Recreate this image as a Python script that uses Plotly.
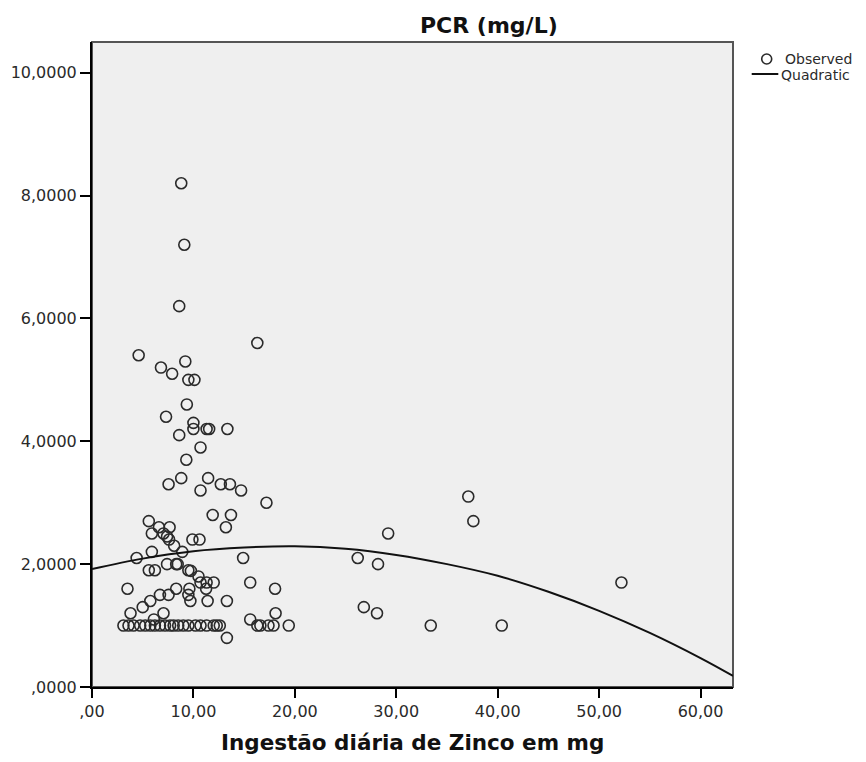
import plotly.graph_objects as go

# Observed points: daily zinc intake (mg) vs PCR (mg/L)
zinc_obs = [
    8.8, 9.1, 8.6, 16.3, 4.6, 6.8, 9.2, 7.9, 9.5, 10.1,
    9.35, 7.3, 10.0, 10.0, 11.3, 11.55, 13.35, 8.6, 10.7, 9.3,
    8.8, 7.55, 11.45, 10.7, 12.7, 13.6, 14.7, 17.2,
    37.1, 37.6, 29.2, 26.2, 28.2, 26.8, 28.1, 19.4, 33.4, 40.4, 52.2,
    11.9, 13.7, 5.6, 6.6, 7.65, 13.2, 5.9, 7.05, 7.4, 7.6, 8.1,
    9.9, 10.6, 5.9, 8.9, 4.4, 14.9, 7.4, 8.3, 8.45, 5.6, 6.2, 9.5, 9.75,
    10.5, 11.3, 12.0, 10.7, 15.6, 18.05, 3.5, 8.3, 9.6, 11.25,
    9.5, 6.7, 7.55, 5.75, 5.0, 9.7, 11.4, 13.3, 3.8, 7.05, 6.1, 15.6, 18.1,
    3.1, 3.6, 4.1, 4.75, 5.25, 5.75, 6.2, 6.7, 7.2, 7.7, 8.05, 8.5, 9.0,
    9.5, 10.2, 10.7, 11.3, 12.0, 12.3, 12.6, 16.3, 16.6, 17.4, 17.9,
    13.3,
]
pcr_obs = [
    8.2, 7.2, 6.2, 5.6, 5.4, 5.2, 5.3, 5.1, 5.0, 5.0,
    4.6, 4.4, 4.3, 4.2, 4.2, 4.2, 4.2, 4.1, 3.9, 3.7,
    3.4, 3.3, 3.4, 3.2, 3.3, 3.3, 3.2, 3.0,
    3.1, 2.7, 2.5, 2.1, 2.0, 1.3, 1.2, 1.0, 1.0, 1.0, 1.7,
    2.8, 2.8, 2.7, 2.6, 2.6, 2.6, 2.5, 2.5, 2.45, 2.4, 2.3,
    2.4, 2.4, 2.2, 2.2, 2.1, 2.1, 2.0, 2.0, 2.0, 1.9, 1.9, 1.9, 1.89,
    1.8, 1.7, 1.7, 1.7, 1.7, 1.6, 1.6, 1.6, 1.6, 1.6,
    1.5, 1.5, 1.5, 1.4, 1.3, 1.4, 1.4, 1.4, 1.2, 1.2, 1.1, 1.1, 1.2,
    1.0, 1.0, 1.0, 1.0, 1.0, 1.0, 1.0, 1.0, 1.0, 1.0, 1.0, 1.0, 1.0,
    1.0, 1.0, 1.0, 1.0, 1.0, 1.0, 1.0, 1.0, 1.0, 1.0, 1.0,
    0.8,
]

# Quadratic fit curve
zinc_fit = [0, 5, 10, 15, 20, 25, 30, 35, 40, 45, 50, 55, 60, 63.2]
pcr_fit = [1.92, 2.09, 2.21, 2.27, 2.29, 2.25, 2.15, 2.00, 1.81, 1.55, 1.24, 0.88, 0.47, 0.18]

x_tickvals = [0, 10, 20, 30, 40, 50, 60]
x_ticktext = [",00", "10,00", "20,00", "30,00", "40,00", "50,00", "60,00"]
y_tickvals = [0, 2, 4, 6, 8, 10]
y_ticktext = [",0000", "2,0000", "4,0000", "6,0000", "8,0000", "10,0000"]

title_text = "PCR (mg/L)"
x_title = "Ingestão diária de Zinco em mg"
legend_labels = ["Observed", "Quadratic"]

W, H = 866, 762
ML, MR, MT, MB = 92, 133, 42, 75
PW, PH = W - ML - MR, H - MT - MB


def px_x(p):
    return (p - ML) / PW


def px_y(p):
    return (H - MB - p) / PH


FONT = "DejaVu Sans"
TXT = "#2a2a2a"

fig = go.Figure()
fig.add_trace(go.Scatter(
    x=zinc_obs, y=pcr_obs, mode="markers", name=legend_labels[0],
    marker=dict(symbol="circle-open", size=11, color="#2a2a2a",
                line=dict(width=1.6, color="#2a2a2a")),
    showlegend=False, cliponaxis=False,
))
fig.add_trace(go.Scatter(
    x=zinc_fit, y=pcr_fit, mode="lines", name=legend_labels[1],
    line=dict(color="#111111", width=2, shape="spline"),
    showlegend=False,
))

fig.update_layout(
    width=W, height=H,
    margin=dict(l=ML, r=MR, t=MT, b=MB, pad=0),
    paper_bgcolor="white", plot_bgcolor="#efefef",
    font=dict(family=FONT, color=TXT, size=16),
    xaxis=dict(range=[0, 63.2], tickvals=x_tickvals, ticktext=x_ticktext,
               showgrid=False, zeroline=False, showline=True, linecolor="black",
               linewidth=2, ticks="outside", ticklen=9, tickwidth=2, tickcolor="black",
               tickfont=dict(family=FONT, size=16, color=TXT)),
    yaxis=dict(range=[0, 10.5], tickvals=y_tickvals, ticktext=y_ticktext,
               showgrid=False, zeroline=False, showline=True, linecolor="black",
               linewidth=2, ticks="outside", ticklen=10, tickwidth=2, tickcolor="black",
               tickfont=dict(family=FONT, size=16, color=TXT)),
    shapes=[
        dict(type="rect", xref="paper", yref="paper", x0=0, x1=1, y0=0, y1=1,
             line=dict(color="#555555", width=2), layer="below"),
        dict(type="circle", xref="paper", yref="paper", xsizemode="pixel",
             ysizemode="pixel", xanchor=px_x(766.7), yanchor=px_y(59),
             x0=-5, x1=5, y0=-5, y1=5, line=dict(color="#2a2a2a", width=1.6)),
        dict(type="line", xref="paper", yref="paper", x0=px_x(751.7), x1=px_x(778.3),
             y0=px_y(74), y1=px_y(74), line=dict(color="#111111", width=2)),
    ],
    annotations=[
        dict(text="<b>%s</b>" % title_text, xref="paper", yref="paper",
             x=px_x(489), y=px_y(25), xanchor="center", yanchor="middle",
             showarrow=False, font=dict(family=FONT, size=22, color="#111111")),
        dict(text="<b>%s</b>" % x_title, xref="paper", yref="paper",
             x=px_x(412), y=px_y(743), xanchor="center", yanchor="middle",
             showarrow=False, font=dict(family=FONT, size=21.5, color="#111111")),
        dict(text=legend_labels[0], xref="paper", yref="paper",
             x=px_x(783), y=px_y(59), xanchor="left", yanchor="middle",
             showarrow=False, font=dict(family=FONT, size=14, color=TXT)),
        dict(text=legend_labels[1], xref="paper", yref="paper",
             x=px_x(779), y=px_y(75), xanchor="left", yanchor="middle",
             showarrow=False, font=dict(family=FONT, size=14, color=TXT)),
    ],
)

fig.write_html("out.html")
